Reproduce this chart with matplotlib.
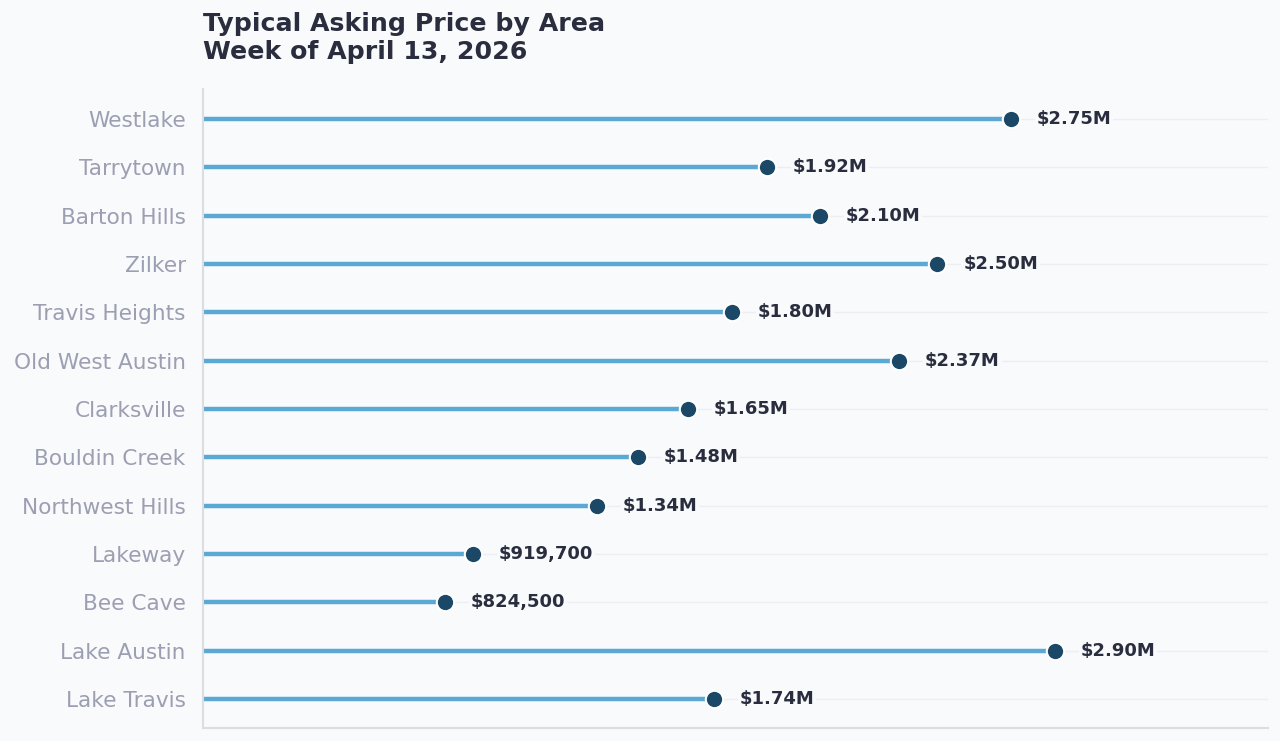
import matplotlib
matplotlib.use("Agg")
import matplotlib.pyplot as plt

areas = ["Westlake", "Tarrytown", "Barton Hills", "Zilker", "Travis Heights",
         "Old West Austin", "Clarksville", "Bouldin Creek", "Northwest Hills",
         "Lakeway", "Bee Cave", "Lake Austin", "Lake Travis"]
prices = [2750000, 1920000, 2100000, 2500000, 1800000, 2370000, 1650000,
          1480000, 1340000, 919700, 824500, 2900000, 1740000]
labels = ["$2.75M", "$1.92M", "$2.10M", "$2.50M", "$1.80M", "$2.37M", "$1.65M",
          "$1.48M", "$1.34M", "$919,700", "$824,500", "$2.90M", "$1.74M"]

BG = "#f9fafc"
LINE = "#5ba8d4"
DOT = "#1b4866"
DARK = "#2a2d3e"
TICK = "#9c9fb2"

fig = plt.figure(figsize=(12.8, 7.41), dpi=100, facecolor=BG)
ax = fig.add_axes([0.1586, 0.0175, 0.9906 - 0.1586, 0.8800 - 0.0175])
ax.set_facecolor(BG)

n = len(areas)
ys = list(range(n - 1, -1, -1))

ax.hlines(ys, 0, prices, color=LINE, linewidth=3.2, zorder=2)
ax.plot(prices, ys, "o", color=DOT, markersize=12.5, markeredgecolor="white",
        markeredgewidth=1.5, zorder=3)
for x, y, t in zip(prices, ys, labels):
    ax.annotate(t, (x, y), xytext=(18.5, 0), textcoords="offset points",
                va="center", ha="left", fontsize=13, fontweight="bold", color=DARK,
                zorder=4, bbox=dict(boxstyle="square,pad=0.1", fc=BG, ec="none"))

ax.set_xlim(0, max(prices) * 1.25)
ax.set_ylim(-0.6, n - 1 + 0.62)
ax.set_yticks(ys)
ax.set_yticklabels(areas, fontsize=15.6, color=TICK)
ax.set_xticks([])
ax.tick_params(axis="y", length=0, pad=12.5)
ax.grid(axis="y", color="#eceef2", linewidth=1, zorder=0)
ax.set_axisbelow(True)
for s in ["top", "right"]:
    ax.spines[s].set_visible(False)
for s in ["left", "bottom"]:
    ax.spines[s].set_color("#dcdde1")
    ax.spines[s].set_linewidth(1.5)

fig.text(0.1586, 1 - 12 / 741, "Typical Asking Price by Area\nWeek of April 13, 2026",
         ha="left", va="top", fontsize=18.2, fontweight="bold", color=DARK,
         linespacing=1.2)

fig.savefig("out.png", dpi=100, facecolor=BG)
